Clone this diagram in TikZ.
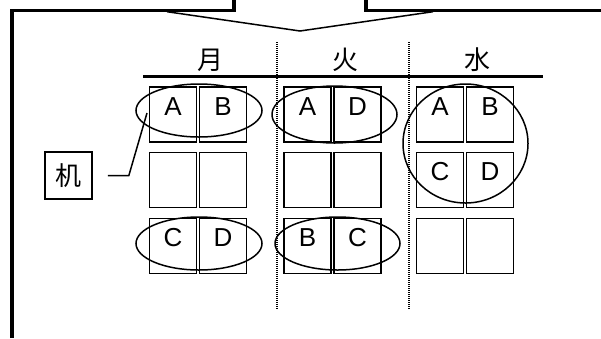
\documentclass[tikz,border=0pt]{standalone}
\usepackage{xcolor}
\usepackage{fontspec}
\setmainfont{Liberation Sans}
\newfontfamily\cjk{Noto Sans CJK JP}
\usepackage{tikz}
\usetikzlibrary{positioning, shapes.geometric}

\begin{document}
\begin{tikzpicture}[x=1pt, y=-1pt,
    frame/.style={line width=3.2pt},
    desk/.style={draw, line width=1.7pt, minimum width=47pt, minimum height=55pt, inner sep=0pt},
    seat/.style={font=\fontsize{26}{30}\selectfont, inner sep=0pt},
    pair/.style={draw, ellipse, line width=1.5pt, inner sep=0pt},
    sep/.style={line width=2.4pt, dash pattern=on 1pt off 1pt},
    day/.style={font=\cjk\fontsize{26}{30}\selectfont, inner sep=0pt}]
    \useasboundingbox (0,0) rectangle (601,338);
    % outer frame and arrow notch
    \draw[frame] (12,338) -- (12,10.5) -- (234,10.5) -- (234,0);
    \draw[frame] (366,0) -- (366,10.5) -- (601,10.5);
    \draw[line width=1.5pt] (167,11.7) -- (300,31) -- (433,11.7);
    % days
    \node[day] (mon) at (210,60) {月};
    \node[day] (tue) at (345,60) {火};
    \node[day] (wed) at (477,60) {水};
    \draw[line width=3.2pt] (143,76.5) -- (543,76.5);
    \draw[sep] (277,42) -- (277,310);
    \draw[sep] (409,42) -- (409,310);
    % desks
    \foreach \d/\x in {1/173, 2/307.5, 3/440}
      \foreach \r/\y in {1/114.5, 2/180, 3/246}{
        \node[desk] (d\d r\r a) at (\x,\y) {};
        \node[desk] (d\d r\r b) at (\x+50,\y) {};
      }
    \foreach \n/\t in {d1r1a/A, d1r1b/B, d2r1a/A, d2r1b/D, d3r1a/A, d3r1b/B,
                       d3r2a/C, d3r2b/D, d1r3a/C, d1r3b/D, d2r3a/B, d2r3b/C}
      \node[seat] at ([yshift=-20pt]\n.north) {\t};
    % groups
    \node[pair, minimum width=126pt, minimum height=53pt] (g1) at (199,110.5) {};
    \node[pair, minimum width=125pt, minimum height=57pt] (g2) at (334.5,114.5) {};
    \node[pair, minimum width=125pt, minimum height=119pt] (g3) at (465.5,143.5) {};
    \node[pair, minimum width=126pt, minimum height=53pt] (g4) at (199,243.5) {};
    \node[pair, minimum width=125pt, minimum height=53pt] (g5) at (337.5,243.5) {};
    % desk label
    \node[draw, line width=1.7pt, minimum size=47pt, inner sep=0pt,
          font=\cjk\fontsize{26}{30}\selectfont] (tsukue) at (68.5,175.5) {机};
    \coordinate (tip) at (147,113);
    \draw[line width=1.5pt] ([xshift=15pt]tsukue.east) -- ++(21,0) -- (tip);
  \end{tikzpicture}
\end{document}
